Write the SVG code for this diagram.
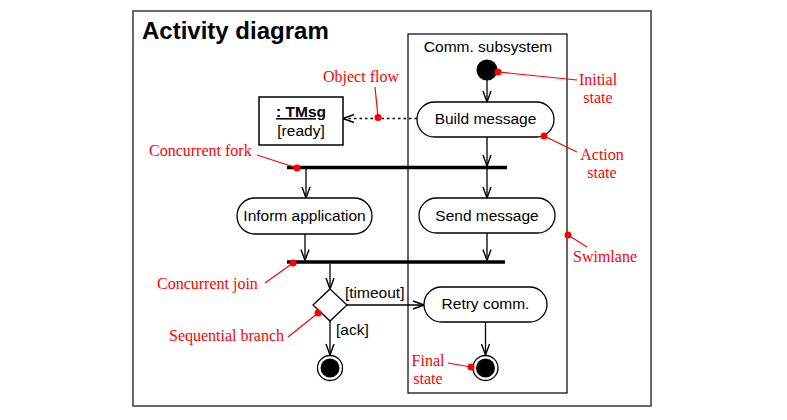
<svg xmlns="http://www.w3.org/2000/svg" width="787" height="420" viewBox="0 0 787 420">
<defs>
<marker id="arr" viewBox="-12 -5 13 10" refX="0" refY="0" markerWidth="13" markerHeight="10" markerUnits="userSpaceOnUse" orient="auto">
<path d="M-11,-4 L0,0 L-11,4" fill="none" stroke="#000" stroke-width="1.4"/>
</marker>
</defs>
<style>
.lbl{font-family:"Liberation Sans",Arial,sans-serif;font-size:15.5px;fill:#000}
.ann{font-family:"Liberation Serif","Times New Roman",serif;font-size:16px;fill:#f00}
.act{fill:#fff;stroke:#000;stroke-width:1.3}
.flow{stroke:#000;stroke-width:1.3;fill:none;marker-end:url(#arr)}
.bar{stroke:#000;stroke-width:3.5}
.aline{stroke:#f00;stroke-width:1.2}
.dot{fill:#f00}
</style>
<rect width="787" height="420" fill="#fff"/>
<g id="frame">
<rect x="133" y="11" width="518" height="395" fill="none" stroke="#444" stroke-width="1.6"/>
<text x="142" y="39" font-family="Liberation Sans,Arial,sans-serif" font-size="24" font-weight="bold">Activity diagram</text>
</g>
<g id="swimlane">
<rect x="408" y="34" width="159" height="359" fill="none" stroke="#000" stroke-width="1.2"/>
<text class="lbl" x="488" y="52" text-anchor="middle">Comm. subsystem</text>
</g>
<g id="connectors">
<line class="flow" x1="487" y1="80" x2="487" y2="102"/>
<line class="flow" x1="487" y1="137" x2="487" y2="166"/>
<line class="flow" x1="487" y1="169" x2="487" y2="198"/>
<line class="flow" x1="306" y1="169" x2="306" y2="198"/>
<line class="flow" x1="305" y1="234" x2="305" y2="260.5"/>
<line class="flow" x1="487" y1="233" x2="487" y2="260.5"/>
<line class="flow" x1="330" y1="264" x2="330" y2="289"/>
<line class="flow" x1="347" y1="305" x2="424" y2="305"/>
<line class="flow" x1="330" y1="321" x2="330" y2="355"/>
<line class="flow" x1="485.5" y1="322" x2="485.5" y2="355"/>
<line class="flow" x1="417" y1="118.5" x2="343" y2="118.5" stroke-dasharray="2.5 3"/>
</g>
<g id="initial"><circle cx="487" cy="70" r="10.5" fill="#000"/></g>
<g id="build">
<rect class="act" x="417" y="102" width="137" height="35" rx="17.5"/>
<text class="lbl" x="485.5" y="124" text-anchor="middle">Build message</text>
</g>
<g id="tmsg">
<rect x="259" y="97" width="84" height="48" fill="#fff" stroke="#000" stroke-width="1.5"/>
<text class="lbl" x="301" y="117" text-anchor="middle" font-weight="bold" text-decoration="underline">: TMsg</text>
<text class="lbl" x="301" y="136" text-anchor="middle">[ready]</text>
</g>
<g id="fork"><line class="bar" x1="287" y1="167.5" x2="507" y2="167.5"/></g>
<g id="inform">
<rect class="act" x="237" y="198" width="135" height="36" rx="18"/>
<text class="lbl" x="304.5" y="221" text-anchor="middle">Inform application</text>
</g>
<g id="send">
<rect class="act" x="419" y="198" width="136" height="35" rx="17.5"/>
<text class="lbl" x="487" y="221" text-anchor="middle">Send message</text>
</g>
<g id="join"><line class="bar" x1="287" y1="262" x2="505" y2="262"/></g>
<g id="branch">
<polygon points="330,289 347,305 330,321 313,305" fill="#fff" stroke="#000" stroke-width="1.3"/>
<text class="lbl" x="345" y="298">[timeout]</text>
<text class="lbl" x="336" y="335">[ack]</text>
</g>
<g id="retry">
<rect class="act" x="424" y="287" width="123" height="35" rx="17.5"/>
<text class="lbl" x="485.5" y="309" text-anchor="middle">Retry comm.</text>
</g>
<g id="final1">
<circle cx="330" cy="368" r="12.5" fill="#fff" stroke="#000" stroke-width="1.3"/>
<circle cx="330" cy="368" r="9.5" fill="#000"/>
</g>
<g id="final2">
<circle cx="485.5" cy="368" r="12.5" fill="#fff" stroke="#000" stroke-width="1.3"/>
<circle cx="485.5" cy="368" r="9.5" fill="#000"/>
</g>
<g id="annotations">
<text class="ann" x="323" y="82">Object flow</text>
<line class="aline" x1="375" y1="87" x2="378" y2="117"/>
<circle class="dot" cx="378" cy="117.5" r="3.5"/>
<line class="aline" x1="498" y1="72" x2="577" y2="80"/>
<circle class="dot" cx="498" cy="72" r="3.5"/>
<text class="ann" x="598" y="85" text-anchor="middle">Initial</text>
<text class="ann" x="598" y="103" text-anchor="middle">state</text>
<line class="aline" x1="544" y1="136" x2="577" y2="152"/>
<circle class="dot" cx="544" cy="136" r="3.5"/>
<text class="ann" x="602" y="160" text-anchor="middle">Action</text>
<text class="ann" x="602" y="178" text-anchor="middle">state</text>
<text class="ann" x="149" y="156">Concurrent fork</text>
<line class="aline" x1="257" y1="155" x2="297" y2="168"/>
<circle class="dot" cx="297" cy="168" r="3.5"/>
<line class="aline" x1="568" y1="235" x2="587" y2="247"/>
<circle class="dot" cx="568" cy="235" r="3.5"/>
<text class="ann" x="573" y="262">Swimlane</text>
<text class="ann" x="157" y="289">Concurrent join</text>
<line class="aline" x1="265" y1="283" x2="293" y2="263"/>
<circle class="dot" cx="293" cy="263" r="3.5"/>
<text class="ann" x="169" y="341">Sequential branch</text>
<line class="aline" x1="288" y1="337" x2="318" y2="313"/>
<circle class="dot" cx="318" cy="313" r="3.5"/>
<text class="ann" x="428" y="366" text-anchor="middle">Final</text>
<text class="ann" x="428" y="384" text-anchor="middle">state</text>
<line class="aline" x1="448" y1="363" x2="471" y2="367"/>
<circle class="dot" cx="471" cy="367" r="3.5"/>
</g>
</svg>
